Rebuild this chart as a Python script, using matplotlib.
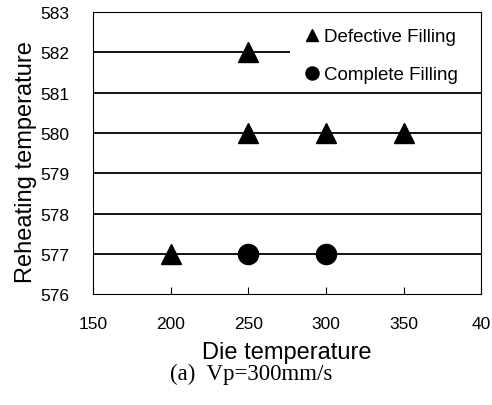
import matplotlib
matplotlib.use('Agg')
import matplotlib.pyplot as plt

# defective filling points (die temp, reheating temp)
defect_x = [250, 250, 300, 350, 200]
defect_y = [582, 580, 580, 580, 577]
# complete filling points
complete_x = [250, 300]
complete_y = [577, 577]

xticks = [150, 200, 250, 300, 350, 400]
xtick_labels = ['150', '200', '250', '300', '350', '40']
yticks = [576, 577, 578, 579, 580, 581, 582, 583]

plt.rcParams['font.family'] = ['Liberation Sans', 'DejaVu Sans']

fig = plt.figure(figsize=(4.92, 4.06), dpi=100)
ax = fig.add_axes([0.189, 0.273, 0.789, 0.695])

for y in yticks[1:-1]:
    ax.axhline(y, color='k', lw=1.3, zorder=1)

# white area behind the legend (hides the top grid line there)
ax.axhspan(581.15, 583, xmin=0.508, xmax=1, color='white', lw=0, zorder=2)

ax.plot(defect_x, defect_y, ls='none', marker='^', color='k', ms=14, zorder=3,
        label='Defective Filling')
ax.plot(complete_x, complete_y, ls='none', marker='o', color='k', ms=14.5, zorder=3,
        label='Complete Filling')

ax.set_xlim(150, 400)
ax.set_ylim(576, 583)
ax.set_xticks(xticks)
ax.set_xticklabels(xtick_labels)
ax.set_yticks(yticks)
ax.tick_params(direction='in', labelsize=12.5, length=5, pad=16)
ax.tick_params(axis='y', length=0, pad=17)

ax.set_xlabel('Die temperature', fontsize=17, labelpad=7)
ax.set_ylabel('Reheating temperature', fontsize=17, labelpad=3)
ax.yaxis.set_label_coords(-0.145, 0.47)

leg = ax.legend(loc='upper left', bbox_to_anchor=(0.534, 0.962), frameon=False,
                fontsize=13.5, handlelength=0.6, handletextpad=0.35,
                markerscale=0.65, labelspacing=1.1, borderaxespad=0,
                borderpad=0.3)
leg.set_zorder(5)

fig.text(0.51, 0.064, '(a)  Vp=300mm/s', ha='center', va='baseline',
         fontsize=16.5, family='Liberation Serif')

fig.savefig('out.png', dpi=100)
